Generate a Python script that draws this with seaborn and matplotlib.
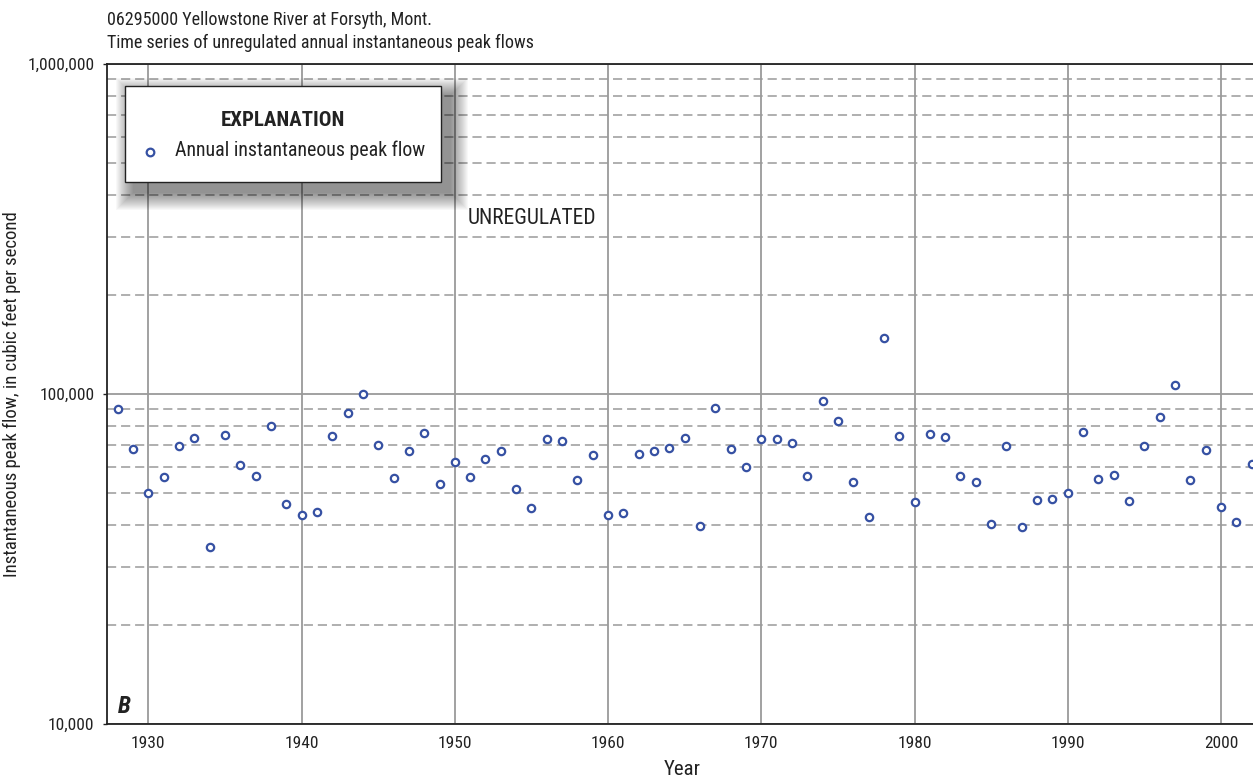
import matplotlib
matplotlib.use("Agg")
import matplotlib.pyplot as plt
from matplotlib import font_manager as fm
from matplotlib.ticker import FixedLocator, FuncFormatter, LogLocator, NullFormatter
from matplotlib.patches import Rectangle
from matplotlib.lines import Line2D
import seaborn as sns
import pandas as pd

# Annual instantaneous peak flows, Yellowstone River at Forsyth (cubic feet per second)
years = list(range(1928, 2003))
peak_flow = [
    90100, 68000, 50200, 55900, 69400, 73600, 34400, 74900, 61100, 56400,
    80200, 46300, 43000, 43800, 74600, 87400, 100200, 70200, 55700, 67000,
    76000, 53500, 62400, 56200, 63500, 67400, 51600, 45000, 73100, 71900,
    54900, 65200, 42900, 43700, 65600, 67200, 68600, 73800, 39900, 90900,
    68100, 60000, 73200, 73200, 70900, 56300, 95000, 82800, 54100, 42300,
    147500, 74400, 47100, 75700, 74100, 56300, 54000, 40500, 69600, 39400,
    47600, 48200, 50000, 76500, 55100, 56700, 47300, 69700, 85400, 106700,
    55000, 67700, 45600, 40900, 61200,
]
x_ticks = [1930, 1940, 1950, 1960, 1970, 1980, 1990, 2000]
y_ticks = [10000, 100000, 1000000]

title_lines = ["06295000 Yellowstone River at Forsyth, Mont.",
               "Time series of unregulated annual instantaneous peak flows"]
legend_label = "Annual instantaneous peak flow"

sns.set_theme(style="white")

# Prefer a narrow sans face; fall back to a condensed DejaVu, then Roboto
installed = fm.fontManager.ttflist
names = {f.name for f in installed}
family, stretch = "Roboto", "normal"
for cand in ["Liberation Sans Narrow", "Arial Narrow", "Roboto Condensed",
             "Open Sans Condensed", "Noto Sans Condensed", "DejaVu Sans Condensed"]:
    if cand in names:
        family = cand
        break
else:
    if any(f.name == "DejaVu Sans" and f.stretch in ("condensed", 500, "semi-condensed")
           for f in installed):
        family, stretch = "DejaVu Sans", "condensed"
plt.rcParams["font.family"] = [family, "DejaVu Sans"]
plt.rcParams["font.stretch"] = stretch
scale = 1.0 if family != "Roboto" else 0.82

ink = "#222222"
df = pd.DataFrame({"Year": years, "Peak flow": peak_flow})

fig = plt.figure(figsize=(12.53, 7.81), dpi=100)
ax = fig.add_axes([107 / 1253, 57 / 781, 1150 / 1253, 660 / 781])

point_color = "#3651a3"
sns.scatterplot(data=df, x="Year", y="Peak flow", ax=ax, marker="o",
                s=28, facecolor="white", edgecolor=point_color, linewidth=1.6,
                zorder=3, legend=False)

ax.set_yscale("log")
ax.set_ylim(1e4, 1e6)
ax.set_xlim(1927.3, 2002.35)

ax.xaxis.set_major_locator(FixedLocator(x_ticks))
ax.yaxis.set_major_locator(FixedLocator(y_ticks))
ax.yaxis.set_major_formatter(FuncFormatter(lambda v, p: f"{int(v):,}"))
ax.yaxis.set_minor_locator(LogLocator(base=10, subs=[2, 3, 4, 5, 6, 7, 8, 9]))
ax.yaxis.set_minor_formatter(NullFormatter())

grid_color = "#9a9a9a"
ax.grid(which="major", axis="both", color=grid_color, linewidth=1.3, linestyle="-", zorder=1)
ax.grid(which="minor", axis="y", color=grid_color, linewidth=1.1,
        linestyle=(0, (6.0, 3.2)), zorder=1)
ax.set_axisbelow(True)

for side in ["left", "bottom", "top"]:
    ax.spines[side].set_color(ink)
    ax.spines[side].set_linewidth(1.3)
ax.spines["right"].set_visible(False)

fs_tick = 12.5 * scale
ax.tick_params(axis="y", which="major", length=3, width=1.0, color=ink,
               labelsize=fs_tick, labelcolor=ink, pad=6, left=True)
ax.tick_params(axis="y", which="minor", length=0)
ax.tick_params(axis="x", which="major", length=0, labelsize=fs_tick,
               labelcolor=ink, pad=9)

ax.set_xlabel("Year", fontsize=15 * scale, color=ink)
ax.xaxis.set_label_coords(0.5, -0.055)
ax.set_ylabel("Instantaneous peak flow, in cubic feet per second",
              fontsize=13.5 * scale, color=ink)
ax.yaxis.set_label_coords(-0.0745, 0.5)

ax.text(1955.0, 3.4e5, "UNREGULATED", fontsize=15.5 * scale, color=ink,
        ha="center", va="center", zorder=4)
ax.text(0.0095, 0.016, "B", transform=ax.transAxes, fontsize=17,
        fontweight="bold", fontstyle="italic", color=ink,
        ha="left", va="baseline", zorder=4)

for i, line in enumerate(title_lines):
    fig.text(107 / 1253, 1 - (20 + 23 * i) / 781, line, fontsize=13 * scale,
             color=ink, ha="left", va="center")

# Explanation box with a soft drop shadow
bx, by, bw, bh = 125, 86, 316, 96  # pixel box: left, top, width, height
for k in range(18):
    grow = 18 - k
    fig.patches.append(Rectangle(
        ((bx + 9 - grow) / 1253, 1 - (by + bh + 10 + grow) / 781),
        (bw + 2 * grow) / 1253, (bh + 2 * grow) / 781,
        transform=fig.transFigure, facecolor="black", edgecolor="none",
        alpha=0.026, zorder=4))
fig.patches.append(Rectangle((bx / 1253, 1 - (by + bh) / 781), bw / 1253, bh / 781,
                             transform=fig.transFigure, facecolor="white",
                             edgecolor=ink, linewidth=1.0, zorder=5))
fig.text((bx + bw / 2) / 1253, 1 - (by + 35) / 781, "EXPLANATION",
         fontsize=15 * scale, fontweight="bold", color=ink,
         ha="center", va="center", zorder=6)
fig.lines.append(Line2D([(bx + 25) / 1253], [1 - (by + 66) / 781],
                        transform=fig.transFigure, marker="o", markersize=5.5,
                        markerfacecolor="white", markeredgecolor=point_color,
                        markeredgewidth=1.6, linestyle="none", zorder=6))
fig.text((bx + 50) / 1253, 1 - (by + 64) / 781, legend_label,
         fontsize=14.3 * scale, color=ink, ha="left", va="center", zorder=6)

fig.savefig("out.png", dpi=100)
